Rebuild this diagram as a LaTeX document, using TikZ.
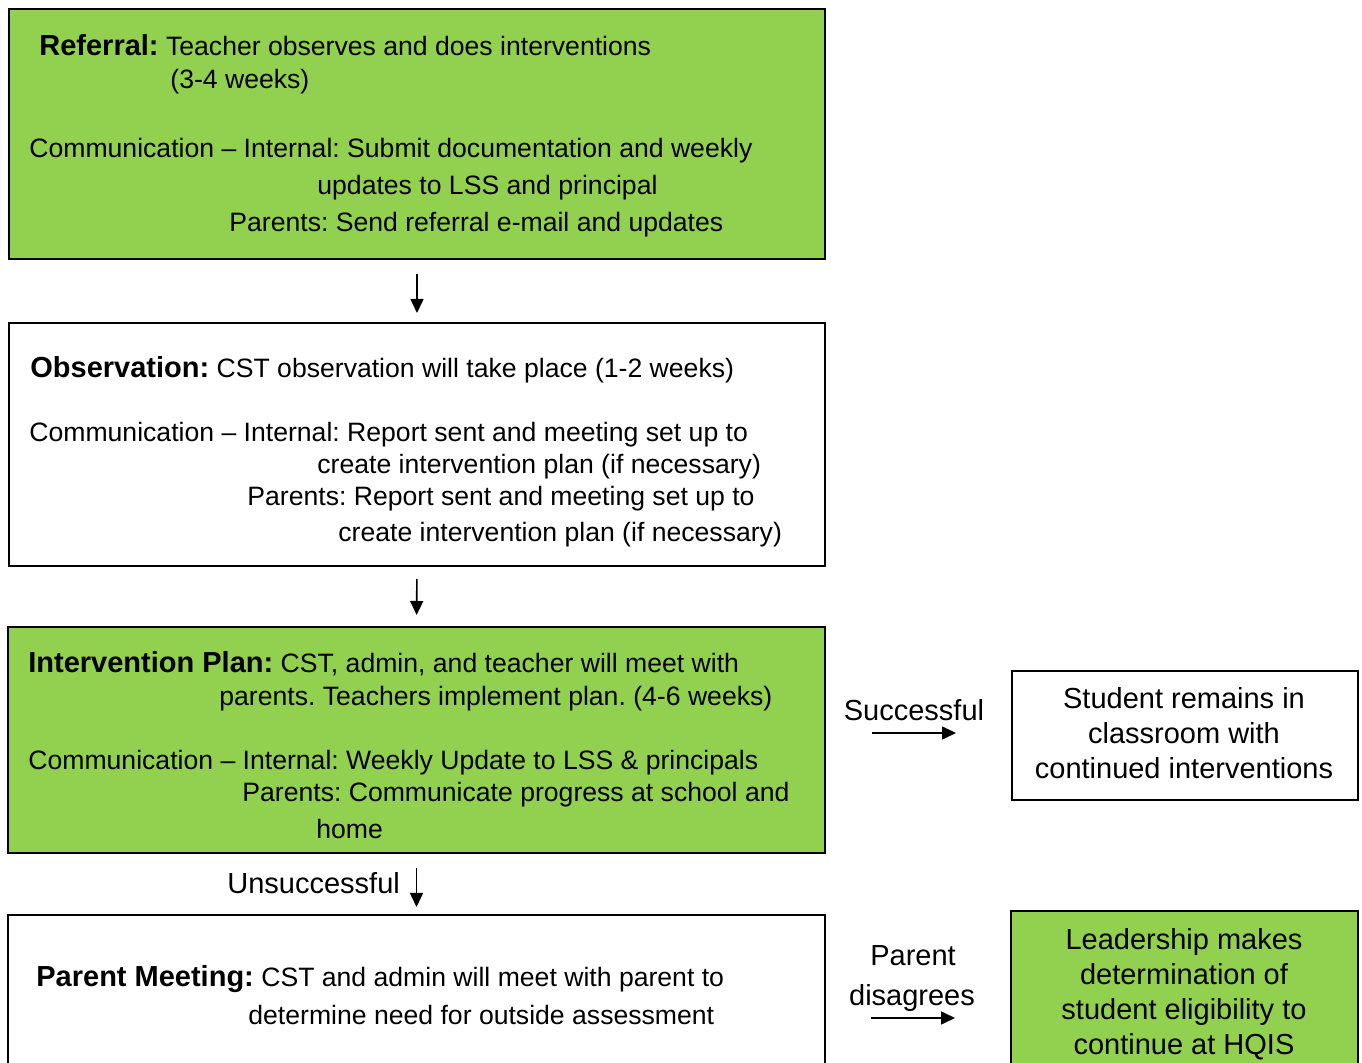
\documentclass[tikz,border=0pt]{standalone}
\usepackage{fontspec}
\setmainfont{Liberation Sans}
\usetikzlibrary{arrows.meta}
\definecolor{leaf}{RGB}{146,208,80}
\frenchspacing
\newcommand\hd[1]{{\fontsize{14.5}{17}\selectfont\bfseries #1}}
\begin{document}
\begin{tikzpicture}[x=0.5pt,y=-0.5pt,
  panel/.style={draw=black, line width=1pt, rectangle, inner sep=0pt, anchor=north west},
  greenpanel/.style={panel, fill=leaf},
  body/.style={inner sep=0pt, anchor=base west, font=\fontsize{13.3}{16}\selectfont},
  side/.style={inner sep=0pt, anchor=base, font=\fontsize{14.5}{17}\selectfont},
  flow/.style={-{Triangle[length=7pt,width=6.5pt]}, line width=0.8pt},
]
\useasboundingbox (0,0) rectangle (1362,1063);

% boxes
\node[greenpanel, minimum width=408pt, minimum height=125pt] (ref) at (8,8) {};
\node[panel, minimum width=408pt, minimum height=121.5pt] (obs) at (8,322) {};
\node[greenpanel, minimum width=408.5pt, minimum height=113pt] (plan) at (7,626) {};
\node[panel, minimum width=408.5pt, minimum height=100pt] (meet) at (7,914) {};
\node[panel, minimum width=173pt, minimum height=64.5pt] (stay) at (1011,670) {};
\node[greenpanel, minimum width=173.5pt, minimum height=100pt] (lead) at (1010,910) {};

% referral text
\node[body] (r1) at (39,56) {\hd{Referral:} Teacher observes and does interventions};
\node[body] (r2) at (170,89) {(3-4 weeks)};
\node[body] (r3) at (29,158) {Communication -- Internal: Submit documentation and weekly};
\node[body] (r4) at (317,195) {updates to LSS and principal};
\node[body] (r5) at (229,232) {Parents: Send referral e-mail and updates};

% observation text
\node[body] (o1) at (30,378) {\hd{Observation:} CST observation will take place (1-2 weeks)};
\node[body] (o2) at (29,442) {Communication -- Internal: Report sent and meeting set up to};
\node[body] (o3) at (317,474) {create intervention plan (if necessary)};
\node[body] (o4) at (247,506) {Parents: Report sent and meeting set up to};
\node[body] (o5) at (338,542) {create intervention plan (if necessary)};

% intervention plan text
\node[body] (p1) at (28,673) {\hd{Intervention Plan:} CST, admin, and teacher will meet with};
\node[body] (p2) at (219,706) {parents. Teachers implement plan. (4-6 weeks)};
\node[body] (p3) at (28,770) {Communication -- Internal: Weekly Update to LSS \& principals};
\node[body] (p4) at (242,802) {Parents: Communicate progress at school and};
\node[body] (p5) at (316,839) {home};

% parent meeting text
\node[body] (m1) at (36,987) {\hd{Parent Meeting:} CST and admin will meet with parent to};
\node[body] (m2) at (248,1025) {determine need for outside assessment};

% right-hand outcomes
\node[side] (s1) at (1184,709) {Student remains in};
\node[side] (s2) at (1184,744) {classroom with};
\node[side] (s3) at (1184,779) {continued interventions};
\node[side] (l1) at (1184,950) {Leadership makes};
\node[side] (l2) at (1184,985) {determination of};
\node[side] (l3) at (1184,1020) {student eligibility to};
\node[side] (l4) at (1184,1055) {continue at HQIS};

% connector labels
\node[side] (succ) at (914,721) {Successful};
\node[side] (pd1) at (913,966) {Parent};
\node[side] (pd2) at (912,1006) {disagrees};
\node[side, anchor=base west] (unsucc) at (227,894) {Unsuccessful};

% connectors
\draw[flow, shorten <=7pt, shorten >=4.5pt] (ref.south) -- (obs.north);
\draw[flow, shorten <=6pt, shorten >=5.5pt] (obs.south) -- (plan.north);
\draw[flow, shorten <=7pt, shorten >=3.5pt] (plan.south) -- (meet.north);
\coordinate (sa) at (872,733);
\coordinate (sb) at (956,733);
\draw[flow] (sa) -- (sb);
\coordinate (da) at (871,1018);
\coordinate (db) at (955,1018);
\draw[flow] (da) -- (db);
\end{tikzpicture}
\end{document}
